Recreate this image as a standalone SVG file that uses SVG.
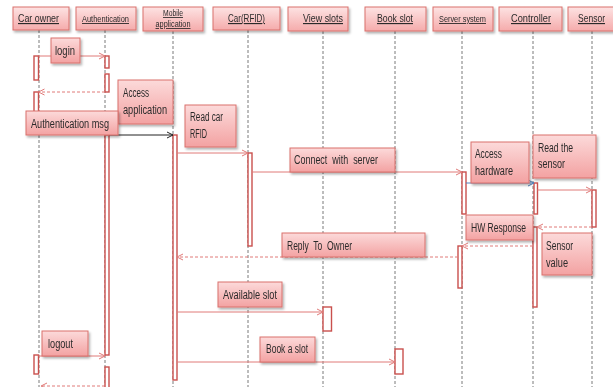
<svg xmlns="http://www.w3.org/2000/svg" width="613" height="387" viewBox="0 0 613 387">
<style>
.hd{fill:url(#gh);stroke:#d9706d;stroke-width:1}
.bx{fill:url(#gb);stroke:#d9706d;stroke-width:1}
.t{font-family:"Liberation Sans",Arial,sans-serif;font-size:12.5px;fill:#2b2b2b}
.th{font-family:"Liberation Sans",Arial,sans-serif;font-size:11.5px;fill:#2b2b2b;text-decoration:underline;text-anchor:middle}
.ts{font-size:9px}
.ll{stroke:#7a7a7a;stroke-width:1;stroke-dasharray:3,2;fill:none}
.act{fill:#fff;stroke:#c9504d;stroke-width:1.4}
.m{stroke:#e07a78;stroke-width:1;fill:none;marker-end:url(#ar)}
.r{stroke:#e07a78;stroke-width:1;stroke-dasharray:3,2;fill:none;marker-end:url(#ar)}
</style>
<defs>
<linearGradient id="gh" x1="0" y1="0" x2="0" y2="1"><stop offset="0" stop-color="#fde3e3"/><stop offset="1" stop-color="#f5abab"/></linearGradient>
<linearGradient id="gb" x1="0" y1="0" x2="0" y2="1"><stop offset="0" stop-color="#fcdada"/><stop offset="1" stop-color="#f3a2a2"/></linearGradient>
<filter id="sh" x="-10%" y="-10%" width="130%" height="140%"><feDropShadow dx="1.5" dy="2" stdDeviation="1.2" flood-color="#000" flood-opacity="0.3"/></filter>
<marker id="ar" markerWidth="8" markerHeight="8" refX="7" refY="4" orient="auto" markerUnits="userSpaceOnUse"><path d="M1,1 L7,4 L1,7" fill="none" stroke="#e07a78" stroke-width="1"/></marker>
<marker id="ak" markerWidth="8" markerHeight="8" refX="7" refY="4" orient="auto" markerUnits="userSpaceOnUse"><path d="M1,1 L7,4 L1,7" fill="none" stroke="#222" stroke-width="1"/></marker>
<marker id="ab" markerWidth="8" markerHeight="8" refX="7" refY="4" orient="auto" markerUnits="userSpaceOnUse"><path d="M1,1 L7,4 L1,7" fill="none" stroke="#4f81bd" stroke-width="1"/></marker>
</defs>
<rect width="613" height="387" fill="#fff"/>

<g id="lifelines">
<line class="ll" x1="39" y1="30" x2="39" y2="387"/>
<line class="ll" x1="105" y1="30" x2="105" y2="387"/>
<line class="ll" x1="173" y1="31" x2="173" y2="387"/>
<line class="ll" x1="248" y1="30" x2="248" y2="387"/>
<line class="ll" x1="323" y1="31" x2="323" y2="387"/>
<line class="ll" x1="395" y1="31" x2="395" y2="387"/>
<line class="ll" x1="462" y1="31" x2="462" y2="387"/>
<line class="ll" x1="533" y1="31" x2="533" y2="387"/>
<line class="ll" x1="592" y1="31" x2="592" y2="387"/>
</g>

<g id="car-owner" filter="url(#sh)"><rect class="hd" x="13" y="7" width="56" height="23"/><text class="th" x="38.5" y="22" textLength="41" lengthAdjust="spacingAndGlyphs">Car owner</text></g>
<g id="authentication" filter="url(#sh)"><rect class="hd" x="76" y="7" width="60" height="23"/><text class="th ts" x="105.5" y="22" textLength="47" lengthAdjust="spacingAndGlyphs">Authentication</text></g>
<g id="mobile-application" filter="url(#sh)"><rect class="hd" x="143" y="7" width="60" height="24"/><text class="th" style="font-size:8.5px" x="173" y="16" textLength="20" lengthAdjust="spacingAndGlyphs">Mobile</text><text class="th" style="font-size:8.5px" x="173" y="27" textLength="35" lengthAdjust="spacingAndGlyphs">application</text></g>
<g id="car-rfid" filter="url(#sh)"><rect class="hd" x="213" y="7" width="67" height="23"/><text class="th" x="246.5" y="22" textLength="37" lengthAdjust="spacingAndGlyphs">Car(RFID)</text></g>
<g id="view-slots" filter="url(#sh)"><rect class="hd" x="288" y="7" width="60" height="24"/><text class="th" x="323" y="22" textLength="40" lengthAdjust="spacingAndGlyphs">View slots</text></g>
<g id="book-slot" filter="url(#sh)"><rect class="hd" x="365" y="7" width="61" height="24"/><text class="th" x="395" y="22" textLength="36" lengthAdjust="spacingAndGlyphs">Book slot</text></g>
<g id="server-system" filter="url(#sh)"><rect class="hd" x="433" y="7" width="60" height="24"/><text class="th ts" x="462.5" y="22" textLength="47" lengthAdjust="spacingAndGlyphs">Server system</text></g>
<g id="controller" filter="url(#sh)"><rect class="hd" x="499" y="7" width="63" height="24"/><text class="th" x="531" y="22" textLength="40" lengthAdjust="spacingAndGlyphs">Controller</text></g>
<g id="sensor" filter="url(#sh)"><rect class="hd" x="568" y="7" width="50" height="24"/><text class="th" x="591.5" y="22" textLength="27" lengthAdjust="spacingAndGlyphs">Sensor</text></g>

<g id="activations">
<rect class="act" x="34" y="56" width="4.5" height="24"/>
<rect class="act" x="105" y="56" width="4" height="12"/>
<rect class="act" x="105" y="74" width="4" height="18"/>
<rect class="act" x="34" y="92" width="4.5" height="20"/>
<rect class="act" x="105" y="135" width="4" height="220"/>
<rect class="act" x="173" y="135" width="4" height="245"/>
<rect class="act" x="248" y="153" width="4" height="93"/>
<rect class="act" x="462" y="172" width="4" height="42"/>
<rect class="act" x="534" y="183" width="3.5" height="31"/>
<rect class="act" x="592" y="190" width="4" height="37"/>
<rect class="act" x="533" y="227" width="4" height="80"/>
<rect class="act" x="458" y="246" width="4" height="42"/>
<rect class="act" x="323" y="307" width="8.5" height="24"/>
<rect class="act" x="395" y="349" width="8" height="25"/>
<rect class="act" x="34" y="355" width="4.5" height="19"/>
<rect class="act" x="105" y="367" width="4" height="25"/>
</g>

<g id="connectors">
<line class="m" x1="38.5" y1="56" x2="105" y2="56"/>
<line class="r" x1="105" y1="92" x2="38.5" y2="92"/>
<line x1="109" y1="135" x2="173" y2="135" stroke="#222" stroke-width="1" marker-end="url(#ak)"/>
<line class="m" x1="177" y1="153" x2="248" y2="153"/>
<line class="m" x1="252" y1="172" x2="462" y2="172"/>
<line x1="466" y1="183" x2="534" y2="183" stroke="#4f81bd" stroke-width="1" marker-end="url(#ab)"/>
<line class="m" x1="537.5" y1="190" x2="592" y2="190"/>
<line class="r" x1="592" y1="227" x2="537" y2="227"/>
<line class="r" x1="533" y1="246" x2="462" y2="246"/>
<line class="r" x1="458" y1="257" x2="177" y2="257"/>
<line class="m" x1="177" y1="312" x2="323" y2="312"/>
<line class="m" x1="177" y1="362" x2="395" y2="362"/>
<line class="m" x1="38.5" y1="356" x2="105" y2="356"/>
<line class="r" x1="105" y1="386" x2="41" y2="386"/>
</g>

<g id="msg-login" filter="url(#sh)"><rect class="bx" x="51" y="38" width="29" height="25"/><text class="t" x="55" y="55" textLength="20" lengthAdjust="spacingAndGlyphs">login</text></g>
<g id="msg-access-application" filter="url(#sh)"><rect class="bx" x="118" y="80" width="55" height="44"/><text class="t" x="123" y="97" textLength="26" lengthAdjust="spacingAndGlyphs">Access</text><text class="t" x="123" y="114" textLength="44" lengthAdjust="spacingAndGlyphs">application</text></g>
<g id="msg-authentication" filter="url(#sh)"><rect class="bx" x="26" y="111" width="92" height="24"/><text class="t" x="31" y="128" textLength="78" lengthAdjust="spacingAndGlyphs">Authentication msg</text></g>
<g id="msg-read-car" filter="url(#sh)"><rect class="bx" x="185" y="105" width="51" height="42"/><text class="t" x="190" y="121" textLength="33" lengthAdjust="spacingAndGlyphs">Read car</text><text class="t" x="190" y="138" textLength="17" lengthAdjust="spacingAndGlyphs">RFID</text></g>
<g id="msg-connect" filter="url(#sh)"><rect class="bx" x="290" y="148" width="105" height="24"/><text class="t" x="294" y="164" xml:space="preserve" textLength="84" lengthAdjust="spacingAndGlyphs">Connect  with  server</text></g>
<g id="msg-access-hardware" filter="url(#sh)"><rect class="bx" x="471" y="142" width="58" height="41"/><text class="t" x="475" y="158" textLength="27" lengthAdjust="spacingAndGlyphs">Access</text><text class="t" x="475" y="175" textLength="38" lengthAdjust="spacingAndGlyphs">hardware</text></g>
<g id="msg-read-sensor" filter="url(#sh)"><rect class="bx" x="533" y="135" width="63" height="43"/><text class="t" x="538" y="152" textLength="35" lengthAdjust="spacingAndGlyphs">Read the</text><text class="t" x="538" y="168" textLength="27" lengthAdjust="spacingAndGlyphs">sensor</text></g>
<g id="msg-hw-response" filter="url(#sh)"><rect class="bx" x="466" y="215" width="67" height="25"/><text class="t" x="471" y="232" textLength="55" lengthAdjust="spacingAndGlyphs">HW Response</text></g>
<g id="msg-sensor-value" filter="url(#sh)"><rect class="bx" x="542" y="233" width="50" height="42"/><text class="t" x="546" y="250" textLength="27" lengthAdjust="spacingAndGlyphs">Sensor</text><text class="t" x="546" y="267" textLength="22" lengthAdjust="spacingAndGlyphs">value</text></g>
<g id="msg-reply" filter="url(#sh)"><rect class="bx" x="282" y="233" width="143" height="24"/><text class="t" x="287" y="250" xml:space="preserve" textLength="65" lengthAdjust="spacingAndGlyphs">Reply  To  Owner</text></g>
<g id="msg-available" filter="url(#sh)"><rect class="bx" x="218" y="282" width="64" height="25"/><text class="t" x="223" y="299" textLength="54" lengthAdjust="spacingAndGlyphs">Available slot</text></g>
<g id="msg-book" filter="url(#sh)"><rect class="bx" x="260" y="337" width="55" height="25"/><text class="t" x="266" y="353" textLength="42" lengthAdjust="spacingAndGlyphs">Book a slot</text></g>
<g id="msg-logout" filter="url(#sh)"><rect class="bx" x="42" y="331" width="46" height="25"/><text class="t" x="48" y="348" textLength="25" lengthAdjust="spacingAndGlyphs">logout</text></g>
</svg>
